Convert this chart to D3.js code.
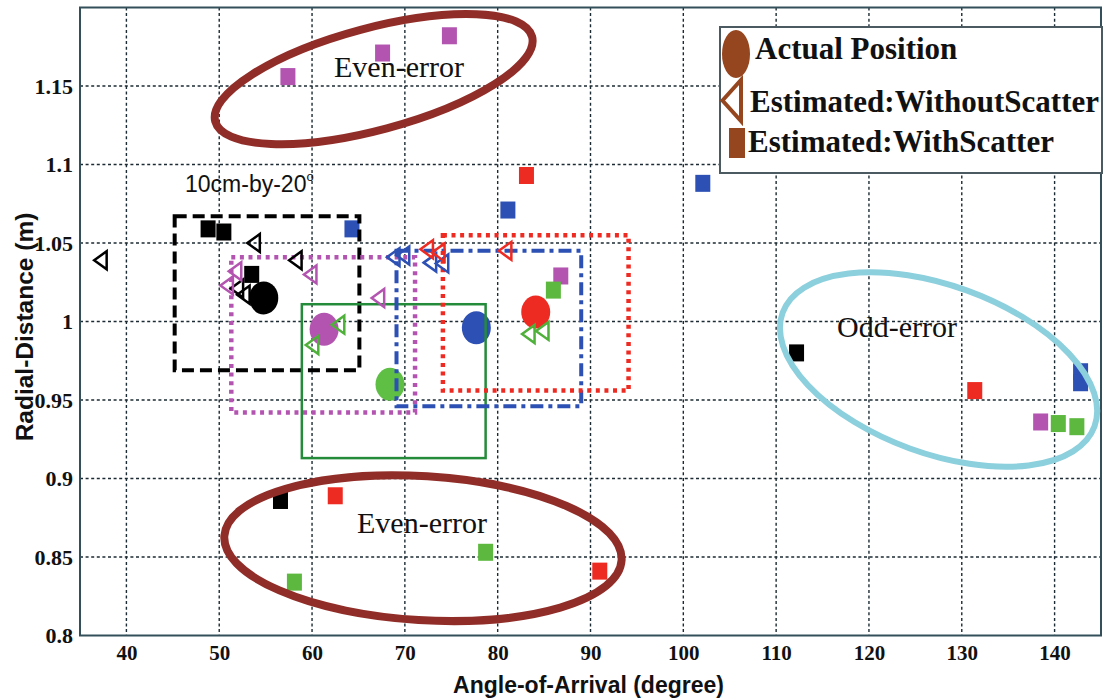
<!DOCTYPE html>
<html>
<head>
<meta charset="utf-8">
<script src="https://cdn.jsdelivr.net/npm/d3@7"></script>
<style>
  html, body { margin: 0; padding: 0; background: #fff; }
  svg { display: block; }
</style>
</head>
<body>
<svg id="chart" width="1106" height="700"></svg>
<script>
// ---- data -------------------------------------------------------------
// Five test positions, each with its own colour.
const positions = ["P1", "P2", "P3", "P4", "P5"];
const positionColors = ["#000000", "#b354b0", "#5cb83e", "#2c50b4", "#ee2b22"];

// Actual position of each target: [angle (deg), radial distance (m)]
const actualAoA  = [54.8, 61.3, 68.4, 77.7, 84.1];
const actualDist = [1.015, 0.995, 0.960, 0.996, 1.006];

// Estimates without scatter: [angle, distance] per position
const noScatter = [
  [[37.2, 1.039], [53.7, 1.050], [58.2, 1.039], [51.9, 1.021], [52.6, 1.017]],
  [[50.8, 1.023], [51.7, 1.032], [59.8, 1.030], [67.1, 1.015]],
  [[62.8, 0.998], [60.0, 0.985], [83.3, 0.992], [84.8, 0.994]],
  [[68.75, 1.041], [69.8, 1.042], [72.7, 1.0375], [74.0, 1.037]],
  [[72.35, 1.046], [73.6, 1.044], [80.8, 1.045]]
];

// Estimates with scatter: [angle, distance] per position
const withScatter = [
  [[48.8, 1.059], [50.5, 1.057], [53.5, 1.030], [56.6, 0.886], [112.2, 0.980]],
  [[57.4, 1.156], [67.6, 1.171], [74.8, 1.182], [86.8, 1.029], [138.5, 0.936]],
  [[58.1, 0.834], [78.7, 0.853], [86.0, 1.020], [140.4, 0.935], [142.4, 0.933]],
  [[64.3, 1.059], [81.1, 1.071], [102.1, 1.088], [142.8, 0.968], [142.8, 0.961]],
  [[62.5, 0.889], [83.1, 1.093], [91.0, 0.841], [131.4, 0.956]]
];

// 10 cm x 20 deg tolerance window around each position: [aoaMin, aoaMax, distMin, distMax]
const windows = [
  [45.2, 65.1, 0.969, 1.067],
  [51.3, 71.1, 0.942, 1.041],
  [58.9, 78.7, 0.913, 1.011],
  [69.1, 89.0, 0.946, 1.045],
  [74.1, 94.1, 0.956, 1.055]
];

const xTicks = [40, 50, 60, 70, 80, 90, 100, 110, 120, 130, 140];
const yTicks = [0.8, 0.85, 0.9, 0.95, 1, 1.05, 1.1, 1.15];
const yTickLabels = ["0.8", "0.85", "0.9", "0.95", "1", "1.05", "1.1", "1.15"];

const legendLabels = ["Actual Position", "Estimated:WithoutScatter", "Estimated:WithScatter"];

// ---- layout -----------------------------------------------------------
const svg = d3.select("#chart");
const plotL = 80, plotR = 1101, plotT = 7.5, plotB = 635.5;

const x = d3.scaleLinear().domain([35, 145]).range([plotL, plotR]);
const y = d3.scaleLinear().domain([0.8, 1.2]).range([plotB, plotT]);

const serif = "'Liberation Serif', 'Times New Roman', serif";
const sans = "'Liberation Sans', Arial, sans-serif";

// plot background
svg.append("rect")
  .attr("x", plotL).attr("y", plotT)
  .attr("width", plotR - plotL).attr("height", plotB - plotT)
  .attr("fill", "#fff");

// dotted grid
const grid = svg.append("g").attr("class", "grid")
  .attr("stroke", "#1c2b33").attr("stroke-width", 1.4).attr("stroke-dasharray", "3,2.6");
grid.selectAll("line.vx").data(xTicks).join("line")
  .attr("x1", d => x(d)).attr("x2", d => x(d))
  .attr("y1", plotT).attr("y2", plotB);
grid.selectAll("line.hy").data(yTicks.filter(v => v > 0.8)).join("line")
  .attr("x1", plotL).attr("x2", plotR)
  .attr("y1", d => y(d)).attr("y2", d => y(d));

// axes (labels only; frame drawn separately)
const xAxis = svg.append("g")
  .attr("transform", `translate(0,${plotB})`)
  .call(d3.axisBottom(x).tickValues(xTicks).tickSize(0).tickPadding(10));
xAxis.select(".domain").remove();
xAxis.selectAll("text")
  .attr("font-family", serif).attr("font-weight", "bold")
  .attr("font-size", 21).attr("fill", "#111");

const yAxis = svg.append("g")
  .attr("transform", `translate(${plotL},0)`)
  .call(d3.axisLeft(y).tickValues(yTicks).tickSize(0).tickPadding(7)
        .tickFormat((d, i) => yTickLabels[i]));
yAxis.select(".domain").remove();
yAxis.selectAll("text")
  .attr("font-family", serif).attr("font-weight", "bold")
  .attr("font-size", 22).attr("fill", "#111");

// axis titles
svg.append("text")
  .attr("x", (plotL + plotR) / 2 - 2).attr("y", 693)
  .attr("text-anchor", "middle")
  .attr("font-family", sans).attr("font-weight", "bold").attr("font-size", 23)
  .attr("fill", "#111")
  .text("Angle-of-Arrival (degree)");

svg.append("text")
  .attr("transform", "translate(33,327) rotate(-90)")
  .attr("text-anchor", "middle")
  .attr("font-family", sans).attr("font-weight", "bold").attr("font-size", 24.5)
  .attr("fill", "#111")
  .text("Radial-Distance (m)");

// ---- marks ------------------------------------------------------------
const plot = svg.append("g");

// squares: estimates with scatter
const sqW = 15, sqH = 17;
withScatter.forEach((pts, gi) => {
  plot.append("g").selectAll("rect").data(pts).join("rect")
    .attr("x", d => x(d[0]) - sqW / 2).attr("y", d => y(d[1]) - sqH / 2)
    .attr("width", sqW).attr("height", sqH)
    .attr("fill", positionColors[gi]);
});

// filled ellipses: actual positions
plot.append("g").selectAll("ellipse").data(positions).join("ellipse")
  .attr("cx", (d, i) => x(actualAoA[i])).attr("cy", (d, i) => y(actualDist[i]))
  .attr("rx", 14.5).attr("ry", 16.5)
  .attr("fill", (d, i) => i === 2 ? "#5fbf45" : positionColors[i]);

// tolerance windows
const windowStyles = [
  { stroke: "#000000", width: 4, dash: "12,6" },
  { stroke: "#b354b0", width: 4.5, dash: "4,4.6" },
  { stroke: "#238b3a", width: 2.5, dash: null },
  { stroke: "#2c50b4", width: 4, dash: "13,5,4,5" },
  { stroke: "#ee2b22", width: 4.5, dash: "4,4.6" }
];
plot.append("g").selectAll("rect").data(windows).join("rect")
  .attr("x", d => x(d[0])).attr("y", d => y(d[3]))
  .attr("width", d => x(d[1]) - x(d[0])).attr("height", d => y(d[2]) - y(d[3]))
  .attr("fill", "none")
  .attr("stroke", (d, i) => windowStyles[i].stroke)
  .attr("stroke-width", (d, i) => windowStyles[i].width)
  .attr("stroke-dasharray", (d, i) => windowStyles[i].dash);

// open left-pointing triangles: estimates without scatter
const triW = 12.5, triH = 18;
const triPath = (cx, cy) =>
  `M${cx - triW / 2},${cy} L${cx + triW / 2},${cy - triH / 2} L${cx + triW / 2},${cy + triH / 2} Z`;
noScatter.forEach((pts, gi) => {
  plot.append("g").selectAll("path").data(pts).join("path")
    .attr("d", d => triPath(x(d[0]), y(d[1])))
    .attr("fill", "none")
    .attr("stroke", gi === 2 ? "#4fb03a" : positionColors[gi])
    .attr("stroke-width", 2.5)
    .attr("stroke-linejoin", "miter");
});

// ---- plot frame -------------------------------------------------------
svg.append("rect")
  .attr("x", plotL).attr("y", plotT)
  .attr("width", plotR - plotL).attr("height", plotB - plotT)
  .attr("fill", "none").attr("stroke", "#33505a").attr("stroke-width", 2);

// ---- annotations ------------------------------------------------------
const regions = [
  { cx: 66.64, cy: 1.1544, rx: 164, ry: 51, rot: -15, color: "#912d28", w: 8,
    label: "Even-error", lx: 334, ly: 77 },
  { cx: 71.95, cy: 0.8556, rx: 199, ry: 72, rot: 3.5, color: "#912d28", w: 8,
    label: "Even-error", lx: 357, ly: 533 },
  { cx: 127.5, cy: 0.9694, rx: 166, ry: 84, rot: 20, color: "#8ccfdd", w: 6,
    label: "Odd-error", lx: 837, ly: 337 }
];
const ann = svg.append("g");
regions.forEach(r => {
  ann.append("ellipse")
    .attr("transform", `translate(${x(r.cx)},${y(r.cy)}) rotate(${r.rot})`)
    .attr("rx", r.rx).attr("ry", r.ry)
    .attr("fill", "none").attr("stroke", r.color).attr("stroke-width", r.w);
  ann.append("text")
    .attr("x", r.lx).attr("y", r.ly)
    .attr("font-family", serif).attr("font-size", 30).attr("fill", "#111")
    .text(r.label);
});

const winLabel = ann.append("text")
  .attr("x", 185).attr("y", 192)
  .attr("font-family", sans).attr("font-size", 23).attr("fill", "#111");
winLabel.append("tspan").text("10cm-by-20");
winLabel.append("tspan").attr("font-size", 13).attr("dy", -11).text("o");

// ---- legend -----------------------------------------------------------
const brown = "#96461f";
const lg = svg.append("g");
lg.append("rect")
  .attr("x", 720).attr("y", 27).attr("width", 382).attr("height", 146)
  .attr("fill", "#fff").attr("stroke", "#4a5a60").attr("stroke-width", 2);

lg.append("ellipse").attr("cx", 736).attr("cy", 54).attr("rx", 14).attr("ry", 24)
  .attr("fill", brown);
lg.append("path")
  .attr("d", "M722.5,100.5 L741,80 L741,121 Z")
  .attr("fill", "none").attr("stroke", brown).attr("stroke-width", 4);
lg.append("rect").attr("x", 729).attr("y", 128).attr("width", 16).attr("height", 30)
  .attr("fill", brown);

const legendPos = [[755, 59], [750, 112], [748, 152]];
lg.selectAll("text.lbl").data(legendLabels).join("text")
  .attr("x", (d, i) => legendPos[i][0]).attr("y", (d, i) => legendPos[i][1])
  .attr("font-family", serif).attr("font-weight", "bold").attr("font-size", 31)
  .attr("fill", "#111")
  .text(d => d);
</script>
</body>
</html>
